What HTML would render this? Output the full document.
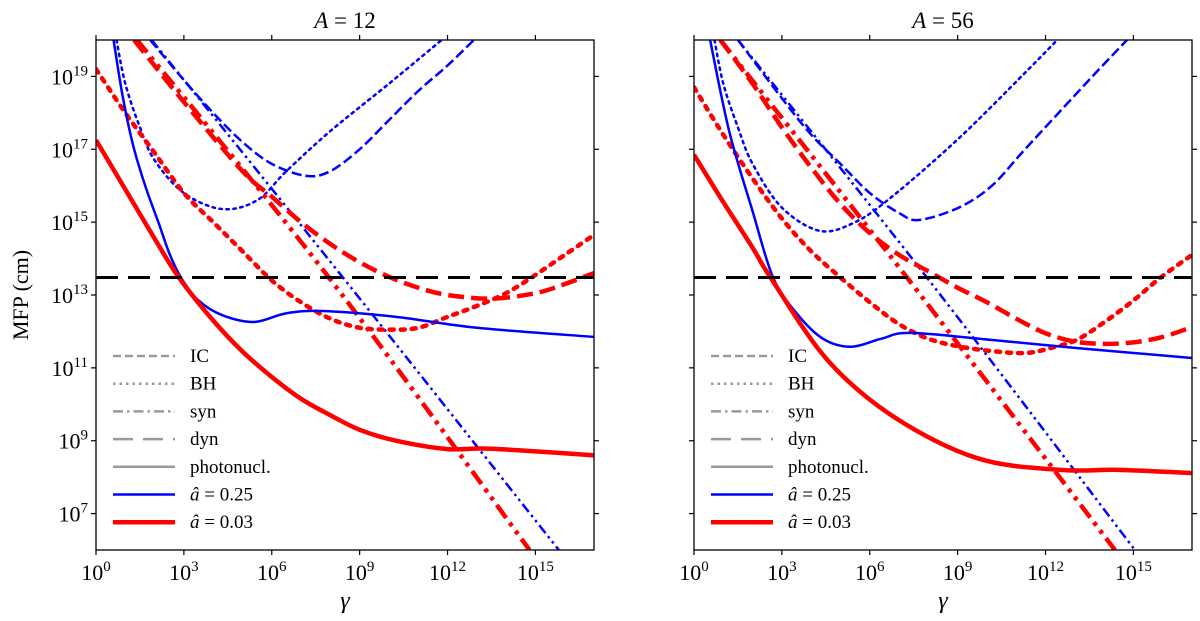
<!DOCTYPE html>
<html><head><meta charset="utf-8">
<style>
body{margin:0;background:#fff;}
svg{display:block;font-family:"Liberation Serif",serif;}
</style></head>
<body>
<svg id="fig" width="1200" height="621" viewBox="0 0 1200 621"></svg>
<script>
// ---- data (log10 gamma, log10 MFP cm) ----
const xTicks=[0,3,6,9,12,15];
const yTicks=[7,9,11,13,15,17,19];
const horizonLevel=13.48;
const legendLabels=["IC","BH","syn","dyn","photonucl.","\u00e2 = 0.25","\u00e2 = 0.03"];

const L_blueSolid=[[0.6,20],[0.9,18.5],[1.27,17.1],[1.7,15.95],[2.15,14.95],[2.5,14.15],[2.9,13.48],[3.5,12.85],[4.3,12.45],[5.4,12.26],[6.5,12.5],[7.75,12.56],[10.24,12.4],[13,12.1],[17,11.85]];
const L_redSolid=[[0,17.25],[1,15.9],[2,14.55],[2.83,13.48],[4,12.3],[5,11.45],[6,10.75],[7,10.15],[8,9.7],[9,9.3],[10.24,9.0],[12,8.77],[13.5,8.78],[17,8.6]];
const L_blueDot=[[0.7,20],[1,18.8],[1.5,17.6],[2,16.7],[3,15.8],[4.3,15.36],[5.5,15.6],[6.5,16.4],[8,17.5],[10,18.8],[11.8,20]];
const L_blueDash=[[1.85,20],[3,18.9],[4,18],[5,17.2],[6,16.6],[7.17,16.27],[8,16.4],[9,17],[10,17.8],[11,18.6],[12,19.3],[12.9,20]];
const L_redDash=[[1.3,20],[3,18.3],[5,16.4],[6,15.7],[7,15.0],[8,14.4],[9,13.9],[10,13.5],[11,13.2],[12,13.0],[13.5,12.9],[15,13.05],[16,13.3],[17,13.6]];
const L_redDot=[[0,19.2],[1,18.0],[2,16.9],[3,15.8],[4,15.0],[5,14.2],[6,13.4],[7,12.8],[8,12.35],[9,12.1],[10,12.05],[11,12.1],[12,12.4],[13,12.7],[14,13.05],[15,13.55],[16,14.1],[17,14.65]];
const L_redSyn=[[1.4,20],[7.95,13.48],[14.8,6]];
const L_blueSyn=[[1.9,20],[8.43,13.48],[15.8,6]];

const R_blueSolid=[[0.55,20],[1.2,17.5],[2,15.3],[2.7,13.48],[3.5,12.5],[4.4,11.8],[5.35,11.58],[6.4,11.8],[7.4,11.96],[10.24,11.76],[13,11.55],[17,11.27]];
const R_redSolid=[[0,16.85],[1,15.55],[2,14.3],[2.62,13.47],[4.55,11.22],[6.83,9.65],[9.67,8.52],[12.5,8.2],[14.5,8.2],[17,8.11]];
const R_blueDot=[[0.7,20],[1,18.8],[1.5,17.6],[2,16.6],[3,15.4],[4.3,14.76],[5.5,15.0],[6.76,15.7],[9.04,17.3],[11.3,19.1],[12.4,20]];
const R_blueDash=[[1.5,20],[3,18.4],[4,17.4],[5,16.6],[6,15.8],[7,15.25],[7.68,15.06],[9.04,15.4],[10.17,16.0],[11.3,17.0],[13.6,19.0],[14.78,20]];
const R_redDash=[[0.9,20],[2,18.8],[3,17.6],[4,16.5],[5,15.5],[6,14.7],[7,14.1],[8,13.65],[9,13.2],[10,12.8],[11,12.35],[12,11.95],[13,11.72],[14,11.66],[15,11.7],[16,11.85],[17,12.12]];
const R_redDot=[[0,18.7],[1,17.4],[2,16.2],[3,15.1],[4,14.2],[5,13.48],[6,12.8],[7,12.2],[8,11.8],[9.1,11.58],[10.3,11.45],[11.37,11.41],[12.2,11.55],[13.07,11.77],[14,12.25],[15,12.85],[15.93,13.48],[17,14.1]];
const R_redSyn=[[0.9,20],[7.27,13.48],[14.37,6]];
const R_blueSyn=[[1.5,20],[7.95,13.48],[15.05,6]];

const NS="http://www.w3.org/2000/svg";
const svg=document.getElementById('fig');
const PW=498, PH=510, TOP=40, XMIN=0, XMAX=17, YMIN=6, YMAX=20;
function mk(t,a,p){const e=document.createElementNS(NS,t);for(const k in a)e.setAttribute(k,a[k]);(p||svg).appendChild(e);return e;}
function smooth(pts,sx,sy){
  const P=pts.map(p=>[sx(p[0]),sy(p[1])]);
  if(P.length<3) return "M"+P.map(p=>p.join(",")).join("L");
  let d="M"+P[0][0]+","+P[0][1];
  for(let i=0;i<P.length-1;i++){
    const p0=P[Math.max(0,i-1)],p1=P[i],p2=P[i+1],p3=P[Math.min(P.length-1,i+2)];
    const c1=[p1[0]+(p2[0]-p0[0])/6,p1[1]+(p2[1]-p0[1])/6];
    const c2=[p2[0]-(p3[0]-p1[0])/6,p2[1]-(p3[1]-p1[1])/6];
    d+="C"+c1+" "+c2+" "+p2;
  }
  return d;
}
const BLUE="#0000ff", RED="#ff0000";
const styles={
  solidB:{stroke:BLUE,w:2.5,dash:null},
  solidR:{stroke:RED,w:4.5,dash:null},
  dotB:{stroke:BLUE,w:2.5,dash:"2.5 4.5"},
  dotR:{stroke:RED,w:4.5,dash:"4 7"},
  dashB:{stroke:BLUE,w:2.5,dash:"10 4"},
  dashR:{stroke:RED,w:4.5,dash:"16 7"},
  synB:{stroke:BLUE,w:2.5,dash:"10 4 2.5 4 2.5 4"},
  synR:{stroke:RED,w:4.5,dash:"16 6 4 6 4 6"}
};

function panel(x0,title,sets,id){
  const sx=v=>x0+(v-XMIN)/(XMAX-XMIN)*PW;
  const sy=v=>TOP+(YMAX-v)/(YMAX-YMIN)*PH;
  const g=mk('g',{});
  
  
  const cp=mk('clipPath',{id:'clip'+id},g);
  mk('rect',{x:x0,y:TOP,width:PW,height:PH},cp);
  const plot=mk('g',{'clip-path':'url(#clip'+id+')'},g);
  sets.forEach(s=>{
    const st=styles[s.style];
    const p=mk('path',{d:smooth(s.data,sx,sy),fill:'none',stroke:st.stroke,'stroke-width':st.w,'stroke-linecap':s.style.startsWith('dot')?'round':'butt'},plot);
    if(st.dash)p.setAttribute('stroke-dasharray',st.dash);
    
    
  });
  const h=mk('line',{x1:x0,x2:x0+PW,y1:sy(horizonLevel),y2:sy(horizonLevel),stroke:'#000','stroke-width':3,'stroke-dasharray':'22 10'},plot);
  
  
  const fr=mk('rect',{x:x0,y:TOP,width:PW,height:PH,fill:'none',stroke:'#000','stroke-width':1.3},g);
  
  
  xTicks.forEach(t=>{
    const X=sx(t);
    mk('line',{x1:X,x2:X,y1:TOP+PH,y2:TOP+PH+5,stroke:'#000','stroke-width':1.2},g);
    mk('line',{x1:X,x2:X,y1:TOP,y2:TOP-5,stroke:'#000','stroke-width':1.2},g);
    const tx=mk('text',{x:X,y:TOP+PH+30,'text-anchor':'middle','font-size':22},g);
    
    
    tx.innerHTML='10<tspan dy="-9" font-size="15">'+t+'</tspan>';
  });
  yTicks.forEach(t=>{
    const Y=sy(t);
    mk('line',{x1:x0,x2:x0-5,y1:Y,y2:Y,stroke:'#000','stroke-width':1.2},g);
    mk('line',{x1:x0+PW,x2:x0+PW+5,y1:Y,y2:Y,stroke:'#000','stroke-width':1.2},g);
    if(id==='left'){
      const tx=mk('text',{x:x0-8,y:Y+8,'text-anchor':'end','font-size':22},g);
      
      
      tx.innerHTML='10<tspan dy="-9" font-size="15">'+t+'</tspan>';
    }
  });
  const ti=mk('text',{x:x0+PW/2,y:28,'text-anchor':'middle','font-size':23},g);
  
  
  ti.innerHTML='<tspan font-style="italic">A</tspan> = '+title;
  const xl=mk('text',{x:x0+PW/2,y:608,'text-anchor':'middle','font-size':24,'font-style':'italic'},g);
  
  
  xl.textContent='\u03b3';
  // legend
  const lg=mk('g',{},g);
  
  
  const ls=[{c:'#999',w:2.5,d:'8 4'},{c:'#999',w:2.5,d:'2.5 4'},{c:'#999',w:2.5,d:'10 4 2.5 4'},{c:'#999',w:2.5,d:'20 10'},{c:'#999',w:2.5,d:null},{c:BLUE,w:2.5,d:null},{c:RED,w:4.5,d:null}];
  legendLabels.forEach((lab,i)=>{
    const Y=356+i*27.7;
    const ln=mk('line',{x1:x0+17,x2:x0+79,y1:Y,y2:Y,stroke:ls[i].c,'stroke-width':ls[i].w},lg);
    if(ls[i].d)ln.setAttribute('stroke-dasharray',ls[i].d);
    const tx=mk('text',{x:x0+94,y:Y+6,'font-size':19},lg);
    
    
    tx.textContent=lab;
    if(i>=5)tx.innerHTML='<tspan font-style="italic">\u00e2</tspan> = '+(i===5?'0.25':'0.03');
  });
}
panel(96,'12',[
 {data:L_blueDot,style:'dotB',name:'bh-a025'},
 {data:L_blueDash,style:'dashB',name:'ic-a025'},
 {data:L_blueSyn,style:'synB',name:'syn-a025'},
 {data:L_redSyn,style:'synR',name:'syn-a003'},
 {data:L_redDash,style:'dashR',name:'ic-a003'},
 {data:L_redDot,style:'dotR',name:'bh-a003'},
 {data:L_blueSolid,style:'solidB',name:'photonucl-a025'},
 {data:L_redSolid,style:'solidR',name:'photonucl-a003'}
],'left');
panel(694,'56',[
 {data:R_blueDot,style:'dotB',name:'bh-a025'},
 {data:R_blueDash,style:'dashB',name:'ic-a025'},
 {data:R_blueSyn,style:'synB',name:'syn-a025'},
 {data:R_redSyn,style:'synR',name:'syn-a003'},
 {data:R_redDash,style:'dashR',name:'ic-a003'},
 {data:R_redDot,style:'dotR',name:'bh-a003'},
 {data:R_blueSolid,style:'solidB',name:'photonucl-a025'},
 {data:R_redSolid,style:'solidR',name:'photonucl-a003'}
],'right');
const yl=mk('text',{x:28,y:295,'text-anchor':'middle','font-size':22,transform:'rotate(-90 28 295)'});


yl.textContent='MFP (cm)';
</script>
</body></html>
